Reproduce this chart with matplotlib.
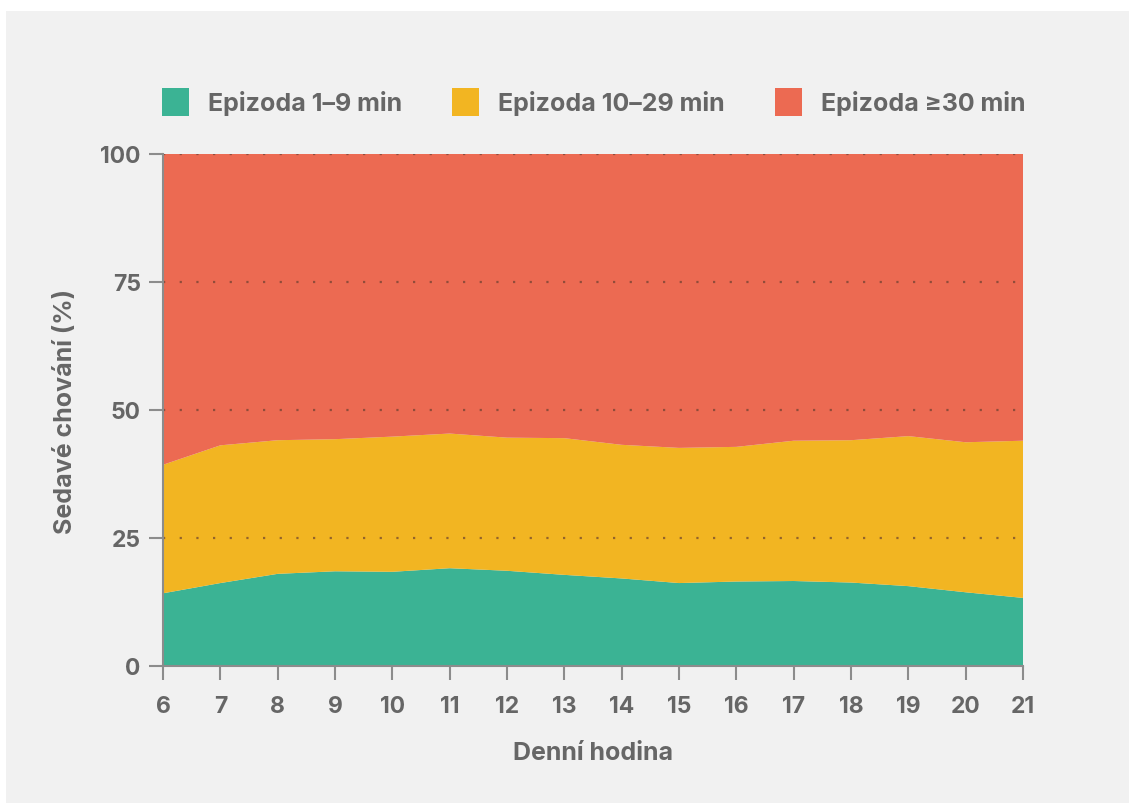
import matplotlib.pyplot as plt
from matplotlib.patches import Patch, Rectangle

# hours of the day
hours = list(range(6, 22))

# share of sedentary time (%) by bout length
bout_1_9 = [14.2, 16.2, 18.0, 18.5, 18.4, 19.1, 18.6, 17.8,
            17.1, 16.2, 16.5, 16.6, 16.3, 15.6, 14.4, 13.3]
bout_10_29 = [25.1, 26.9, 26.1, 25.8, 26.4, 26.3, 26.0, 26.7,
              26.1, 26.4, 26.3, 27.4, 27.8, 29.3, 29.3, 30.7]
bout_30 = [100 - a - b for a, b in zip(bout_1_9, bout_10_29)]

labels = ['Epizoda 1–9 min', 'Epizoda 10–29 min', 'Epizoda ≥30 min']
colors = ['#3bb394', '#f2b522', '#ec6a52']

text_col = '#666666'
spine_col = '#8c8c8c'
bg = '#f1f1f1'

plt.rcParams['font.family'] = ['Inter', 'DejaVu Sans']
plt.rcParams['font.weight'] = 'bold'

fig = plt.figure(figsize=(11.29, 8.04), dpi=100)
fig.patch.set_facecolor('white')
# light grey panel (white strip on top and left)
fig.patches.append(Rectangle((6 / 1129, 0), 1, 1 - 12 / 804, transform=fig.transFigure,
                             facecolor=bg, edgecolor='none', zorder=-5))

ax = fig.add_axes([163 / 1129, 1 - 667 / 804, 860 / 1129, 512 / 804])
ax.set_facecolor(bg)
ax.stackplot(hours, bout_1_9, bout_10_29, bout_30, colors=colors, linewidth=0)

ax.set_xlim(6, 21)
ax.set_ylim(0, 100)
ax.set_xticks(hours)
ax.set_yticks([0, 25, 50, 75, 100])

for y in [25, 50, 75, 100]:
    ax.axhline(y, color='#6b4030', alpha=0.7, linestyle=(0, (1, 6.5)), linewidth=1.6, zorder=3)

for s in ['top', 'right']:
    ax.spines[s].set_visible(False)
for s in ['left', 'bottom']:
    ax.spines[s].set_color(spine_col)
    ax.spines[s].set_linewidth(1.5)
    ax.spines[s].set_zorder(4)

ax.tick_params(axis='both', colors=spine_col, labelcolor=text_col, labelsize=16.5,
               length=10, width=1.5, direction='out')
ax.tick_params(axis='y', pad=6)
ax.tick_params(axis='x', pad=11)

ax.set_xlabel('Denní hodina', fontsize=18, color=text_col, fontweight='bold', labelpad=17)
ax.set_ylabel('Sedavé chování (%)', fontsize=18, color=text_col, fontweight='bold', labelpad=17)

handles = [Patch(facecolor=c, edgecolor='none') for c in colors]
leg = fig.legend(handles, labels, loc='center left', bbox_to_anchor=(144 / 1129, 1 - 103 / 804),
                 ncol=3, frameon=False, fontsize=18, handlelength=1.1, handleheight=1.4,
                 handletextpad=0.75, columnspacing=2.0, labelcolor=text_col, borderpad=0.2)

fig.savefig('out.png', dpi=100, facecolor=fig.get_facecolor())
